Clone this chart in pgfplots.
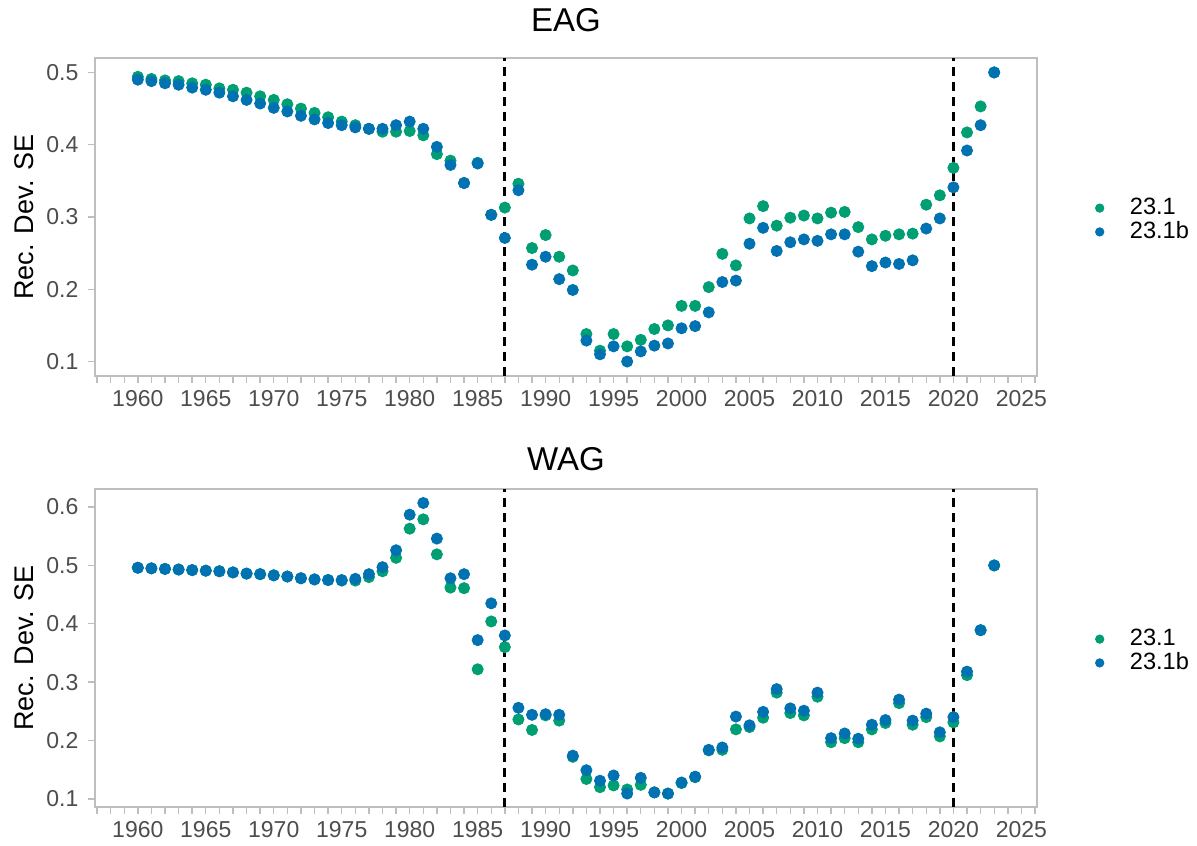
\documentclass[border=0pt]{standalone}
\usepackage{fontspec}
\setmainfont{Liberation Sans}
\usepackage{pgfplots}
\pgfplotsset{compat=1.18}
\usepackage{pgfplotstable}

\definecolor{cgreen}{HTML}{009E73}
\definecolor{cblue}{HTML}{0072B2}
\definecolor{framegray}{HTML}{BEBEBE}
\definecolor{ticktext}{HTML}{4D4D4D}

% year, 23.1, 23.1b
\pgfplotstableread{
year g b
1960 0.494 0.490
1961 0.491 0.488
1962 0.489 0.485
1963 0.488 0.483
1964 0.485 0.479
1965 0.483 0.476
1966 0.478 0.472
1967 0.476 0.467
1968 0.472 0.462
1969 0.467 0.457
1970 0.462 0.451
1971 0.456 0.446
1972 0.450 0.440
1973 0.444 0.435
1974 0.438 0.430
1975 0.432 0.427
1976 0.427 0.424
1977 0.422 0.422
1978 0.418 0.422
1979 0.418 0.427
1980 0.419 0.432
1981 0.413 0.422
1982 0.387 0.397
1983 0.378 0.372
1984 0.347 0.347
1985 0.375 0.374
1986 0.303 0.303
1987 0.313 0.271
1988 0.346 0.337
1989 0.257 0.234
1990 0.275 0.245
1991 0.245 0.214
1992 0.226 0.199
1993 0.138 0.129
1994 0.115 0.110
1995 0.138 0.121
1996 0.121 0.100
1997 0.130 0.114
1998 0.145 0.122
1999 0.150 0.125
2000 0.177 0.146
2001 0.177 0.149
2002 0.203 0.168
2003 0.249 0.210
2004 0.233 0.212
2005 0.298 0.263
2006 0.315 0.285
2007 0.288 0.253
2008 0.299 0.265
2009 0.302 0.269
2010 0.298 0.267
2011 0.306 0.276
2012 0.307 0.276
2013 0.286 0.252
2014 0.269 0.232
2015 0.274 0.237
2016 0.276 0.235
2017 0.277 0.240
2018 0.317 0.284
2019 0.330 0.298
2020 0.368 0.341
2021 0.417 0.392
2022 0.453 0.427
2023 0.500 0.500
}\eag

\pgfplotstableread{
year g b
1960 0.496 0.496
1961 0.495 0.495
1962 0.494 0.494
1963 0.493 0.493
1964 0.492 0.492
1965 0.491 0.491
1966 0.490 0.490
1967 0.488 0.488
1968 0.486 0.486
1969 0.485 0.485
1970 0.483 0.483
1971 0.481 0.481
1972 0.478 0.478
1973 0.476 0.476
1974 0.475 0.475
1975 0.474 0.475
1976 0.474 0.477
1977 0.480 0.485
1978 0.490 0.497
1979 0.513 0.526
1980 0.563 0.587
1981 0.579 0.607
1982 0.519 0.546
1983 0.462 0.478
1984 0.461 0.485
1985 0.322 0.372
1986 0.404 0.435
1987 0.360 0.380
1988 0.236 0.256
1989 0.218 0.244
1990 0.243 0.245
1991 0.234 0.244
1992 0.172 0.174
1993 0.134 0.149
1994 0.120 0.131
1995 0.123 0.140
1996 0.116 0.109
1997 0.124 0.136
1998 0.111 0.111
1999 0.109 0.109
2000 0.127 0.128
2001 0.137 0.138
2002 0.183 0.184
2003 0.184 0.188
2004 0.219 0.241
2005 0.223 0.226
2006 0.239 0.249
2007 0.282 0.288
2008 0.247 0.255
2009 0.243 0.251
2010 0.275 0.282
2011 0.197 0.204
2012 0.204 0.212
2013 0.197 0.203
2014 0.219 0.227
2015 0.230 0.235
2016 0.264 0.270
2017 0.227 0.234
2018 0.240 0.246
2019 0.207 0.214
2020 0.231 0.240
2021 0.312 0.318
2022 0.389 0.389
2023 0.500 0.500
}\wag

\pgfplotsset{
  recdev/.style={
    scale only axis, width=471pt, height=159pt,
    xmin=1956.85, xmax=2026.15,
    axis line style={framegray, line width=0.7pt},
    tick style={framegray, line width=0.7pt},
    tick align=outside, tick pos=left,
    major tick length=3.5pt, minor tick length=3.5pt,
    xtick={1960,1965,...,2025},
    minor xtick={1957,1958,...,2026},
    ytick distance=0.1,
    ticklabel style={font=\fontsize{11.5}{13}\selectfont, text=ticktext},
    /pgf/number format/assume math mode=true,
    xticklabel style={/pgf/number format/1000 sep={}, anchor=center, yshift=-7.8pt},
    yticklabel style={/pgf/number format/.cd, fixed, precision=1, fixed zerofill,
      /tikz/.cd, anchor=east, xshift=-1.3pt},
    ylabel={Rec. Dev. SE},
    ylabel style={font=\fontsize{13.5}{15}\selectfont, at={(axis description cs:-0.0754,0.5)}, anchor=center},
    title style={font=\fontsize{16.5}{19}\selectfont, anchor=center, yshift=-6pt},
    legend style={at={(axis description cs:1.0553,0.49)}, anchor=west, draw=none, fill=none,
      font=\fontsize{11.8}{13}\selectfont, row sep=-2pt,
      /tikz/every odd column/.append style={column sep=11pt}},
    legend cell align=left,
    legend image code/.code={\draw[#1,mark size=2.1pt] plot coordinates {(0pt,0pt)};},
  },
  vline/.style={forget plot, black, line width=1.4pt, dash pattern=on 4.5pt off 3pt},
  dots/.style={only marks, mark=*, mark size=2.8pt, color=#1, mark options={solid, draw=#1, fill=#1}},
}

\begin{document}
\begin{tikzpicture}
\useasboundingbox (0,0) rectangle (598.5pt,422.5pt);

\begin{axis}[recdev, at={(47.5pt,234.5pt)}, anchor=south west,
  title={EAG}, title style={at={(axis description cs:0.5,1.118)}},
  ymin=0.08, ymax=0.52]
  \addplot[vline] coordinates {(1987,0.08) (1987,0.52)};
  \addplot[vline] coordinates {(2020,0.08) (2020,0.52)};
  \addplot[dots=cgreen] table[x=year, y=g] {\eag};
  \addlegendentry{23.1}
  \addplot[dots=cblue] table[x=year, y=b] {\eag};
  \addlegendentry{23.1b}
\end{axis}

\begin{axis}[recdev, at={(47.5pt,19pt)}, anchor=south west,
  title={WAG}, title style={at={(axis description cs:0.5,1.094)}},
  ymin=0.086, ymax=0.631]
  \addplot[vline] coordinates {(1987,0.086) (1987,0.631)};
  \addplot[vline] coordinates {(2020,0.086) (2020,0.631)};
  \addplot[dots=cgreen] table[x=year, y=g] {\wag};
  \addlegendentry{23.1}
  \addplot[dots=cblue] table[x=year, y=b] {\wag};
  \addlegendentry{23.1b}
\end{axis}
\end{tikzpicture}
\end{document}
